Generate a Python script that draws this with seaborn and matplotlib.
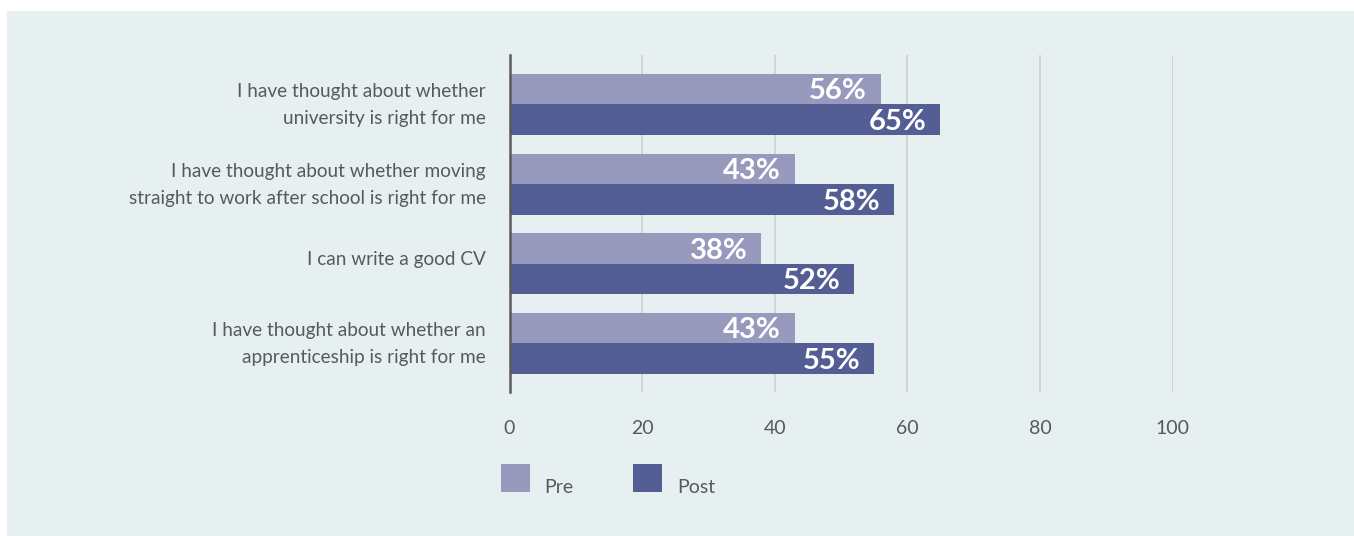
import matplotlib
matplotlib.use("Agg")
import matplotlib.pyplot as plt
from matplotlib.patches import Rectangle
from matplotlib.transforms import ScaledTranslation
import pandas as pd
import seaborn as sns

# Survey statements and the share agreeing before / after the programme
statements = [
    "I have thought about whether\nuniversity is right for me",
    "I have thought about whether moving\nstraight to work after school is right for me",
    "I can write a good CV",
    "I have thought about whether an\napprenticeship is right for me",
]
pre_values = [56, 43, 38, 43]
post_values = [65, 58, 52, 55]
series_names = ["Pre", "Post"]
x_ticks = [0, 20, 40, 60, 80, 100]

PRE_COLOR = "#979abd"
POST_COLOR = "#525e94"
BG = "#e7f0f1"
TEXT = "#595959"

df = pd.DataFrame({
    "statement": statements * 2,
    "value": pre_values + post_values,
    "period": [series_names[0]] * len(statements) + [series_names[1]] * len(statements),
})

sns.set_theme(style="white")
plt.rcParams["font.family"] = ["Lato", "DejaVu Sans"]

W, H, DPI = 1354, 536, 100
fig = plt.figure(figsize=(W / DPI, H / DPI), dpi=DPI, facecolor="white")
fig.patches.append(Rectangle((7 / W, 0), 1 - 7 / W, 1 - 11 / H,
                             transform=fig.transFigure, facecolor=BG,
                             edgecolor="none", zorder=-10))

left, right = 509.5 / W, 1172.5 / W
top, bottom = 1 - 55 / H, 1 - 392 / H
ax = fig.add_axes([left, bottom, right - left, top - bottom])
ax.set_facecolor(BG)
ax.patch.set_alpha(0)

sns.barplot(data=df, y="statement", x="value", hue="period",
            order=statements, hue_order=series_names,
            palette=[PRE_COLOR, POST_COLOR], orient="h",
            width=0.766, gap=0, saturation=1, ax=ax, legend=True,
            linewidth=0, zorder=3)

ax.set_xlim(0, 100)
ax.set_ylim(3.61, -0.62)
ax.set_xticks(x_ticks)
ax.set_xticklabels([str(t) for t in x_ticks])
ax.set_xlabel("")
ax.set_ylabel("")

for x in x_ticks[1:]:
    ax.axvline(x, color="#c9cdcd", linewidth=1.1, zorder=1)

for side in ["top", "right", "bottom"]:
    ax.spines[side].set_visible(False)
ax.spines["left"].set_color("#5a5a5a")
ax.spines["left"].set_linewidth(1.8)
ax.spines["left"].set_zorder(5)

ax.tick_params(axis="x", length=0, pad=20, labelsize=14, labelcolor=TEXT)
ax.tick_params(axis="y", length=0, pad=17, labelsize=13.7, labelcolor=TEXT)
lift = ScaledTranslation(0, 6 / DPI, fig.dpi_scale_trans)
for lbl in ax.get_yticklabels():
    lbl.set_linespacing(1.75)
    lbl.set_transform(lbl.get_transform() + lift)

# Percentage labels inside the bar ends
for container in ax.containers:
    for bar in container:
        val = bar.get_width()
        yc = bar.get_y() + bar.get_height() / 2
        ax.annotate(f"{val:.0f}%", xy=(val, yc), xytext=(-14, -10.3),
                    textcoords="offset pixels", ha="right", va="baseline",
                    color="white", fontsize=21, fontweight="bold", zorder=6)

leg = ax.legend(loc="upper left", bbox_to_anchor=(501 / W, 1 - 464 / H),
                bbox_transform=fig.transFigure, frameon=False, ncol=2,
                fontsize=14, handlelength=1.5, handleheight=1.8,
                handletextpad=0.75, columnspacing=3.05, borderpad=0,
                borderaxespad=0)
for t in leg.get_texts():
    t.set_color(TEXT)
    t.set_y(-9)

fig.savefig("out.png", dpi=DPI, facecolor="white")
